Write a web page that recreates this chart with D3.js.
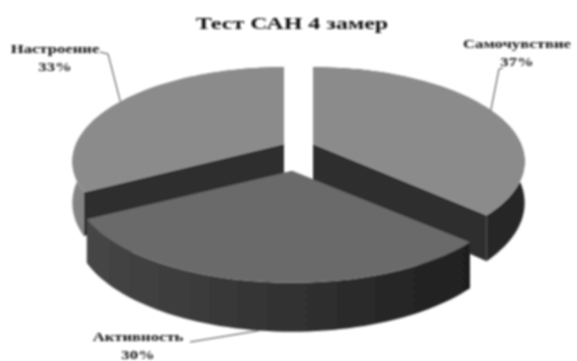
<!DOCTYPE html>
<html>
<head>
<meta charset="utf-8">
<script src="https://cdn.jsdelivr.net/npm/d3@7"></script>
<style>
  html, body { margin: 0; padding: 0; background: #fff; }
  svg { display: block; }
</style>
</head>
<body>
<div id="chart"></div>
<script>
const title = "Тест САН 4 замер";
const categories = ["Самочувствие", "Активность", "Настроение"];
const values = [37, 30, 33];

const w = 577, h = 361;
const rx = 208, ry = 91, persp = 0.185, depth = 40;

// where each exploded slice has its apex, the wall colours and the label spot
const slices = [
  { ox: 313, oy: 144, near: 1, top: "#8b8b8b", cut: "#2f2f2f", wall: ["#333333", "#262626"], lx: 517, ly: 48, dx: -18, dy: 20 },
  { ox: 292, oy: 171, near: 1.025, top: "#6a6a6a", cut: "#2f2f2f", wall: ["#464646", "#1f1f1f"], lx: 138, ly: 341, dx: 52, dy: 1 },
  { ox: 284, oy: 144, near: 1, top: "#8b8b8b", cut: "#2f2f2f", wall: ["#858585", "#555555"], lx: 55, ly: 53, dx: 45, dy: -1 }
];

const xScale = d3.scaleLinear().domain([-1, 1]).range([-rx, rx]);
const yScale = d3.scaleLinear().domain([-1, 1]).range([-ry, ry]);

// angle is clockwise from the top, lower side of the disc comes closer to the viewer
function project(s, angle, radius, drop) {
  const u = Math.sin(angle) * radius;
  const v = -Math.cos(angle) * radius;
  const k = 1 / (1 - persp * v);
  return [s.ox + xScale(u) * k * s.near, s.oy + yScale(v) * k + (drop ? depth * k : 0)];
}

const svg = d3.select("#chart").append("svg")
  .attr("width", w)
  .attr("height", h)
  .style("background", "#fff");

const defs = svg.append("defs");
defs.append("filter").attr("id", "soft")
  .attr("x", "-5%").attr("y", "-5%").attr("width", "110%").attr("height", "110%")
  .append("feGaussianBlur").attr("stdDeviation", 0.9);

const root = svg.append("g").attr("filter", "url(#soft)");

const pie = d3.pie().sort(null).value(d => d);
const arcs = pie(values);
const line = d3.line();

// back slices first, the front slice goes over them
[2, 0, 1].forEach(i => {
  const a = arcs[i], s = slices[i];
  const steps = d3.range(0, 61).map(t => a.startAngle + (a.endAngle - a.startAngle) * t / 60);
  const topEdge = steps.map(t => project(s, t, 1, false));
  const lowEdge = steps.map(t => project(s, t, 1, true));

  const grad = defs.append("linearGradient")
    .attr("id", "wall" + i)
    .attr("gradientUnits", "userSpaceOnUse")
    .attr("x1", d3.min(topEdge, p => p[0])).attr("x2", d3.max(topEdge, p => p[0]))
    .attr("y1", 0).attr("y2", 0);
  grad.append("stop").attr("offset", 0).attr("stop-color", s.wall[0]);
  grad.append("stop").attr("offset", 1).attr("stop-color", s.wall[1]);

  // cut walls
  [a.startAngle, a.endAngle].forEach(t => {
    root.append("path")
      .attr("d", line([
        project(s, t, 0, false), project(s, t, 1, false),
        project(s, t, 1, true), project(s, t, 0, true)
      ]) + "Z")
      .attr("fill", s.cut);
  });

  // outer wall
  root.append("path")
    .attr("d", line(topEdge.concat(lowEdge.slice().reverse())) + "Z")
    .attr("fill", `url(#wall${i})`);

  // top face
  root.append("path")
    .attr("d", line([project(s, 0, 0, false)].concat(topEdge)) + "Z")
    .attr("fill", s.top);
});

// leader lines run from the middle of each slice to its label
arcs.forEach((a, i) => {
  const s = slices[i];
  const mid = (a.startAngle + a.endAngle) / 2;
  const end = project(s, mid, 1, i === 1);
  const start = [s.lx + s.dx, s.ly + s.dy];
  let pts = [start, end];
  if (i === 2) pts = [start, [start[0] + 8, start[1] + 2], end];
  if (i === 0) pts = [[start[0] + 4, start[1]], [start[0], start[1] + 1], end];
  root.append("path")
    .attr("d", line(pts))
    .attr("fill", "none")
    .attr("stroke", "#444")
    .attr("stroke-width", 1);
});

const font = "'Liberation Serif', serif";

// the reference lettering is stretched sideways
root.append("text")
  .attr("transform", "translate(292,29) scale(1.5,1)")
  .attr("text-anchor", "middle")
  .attr("font-family", font)
  .attr("font-weight", "bold")
  .attr("font-size", 16)
  .attr("fill", "#111")
  .text(title);

const total = d3.sum(values);
const labels = root.selectAll(".label")
  .data(arcs)
  .join("text")
  .attr("class", "label")
  .attr("text-anchor", "middle")
  .attr("font-family", font)
  .attr("font-weight", "bold")
  .attr("font-size", 11.5)
  .attr("fill", "#111")
  .attr("transform", (d, i) => `translate(${slices[i].lx},${slices[i].ly}) scale(1.45,1)`);
labels.append("tspan").attr("x", 0).attr("y", 0).text((d, i) => categories[i]);
labels.append("tspan").attr("x", 0).attr("y", 18.5).text(d => Math.round(d.value / total * 100) + "%");
</script>
</body>
</html>
